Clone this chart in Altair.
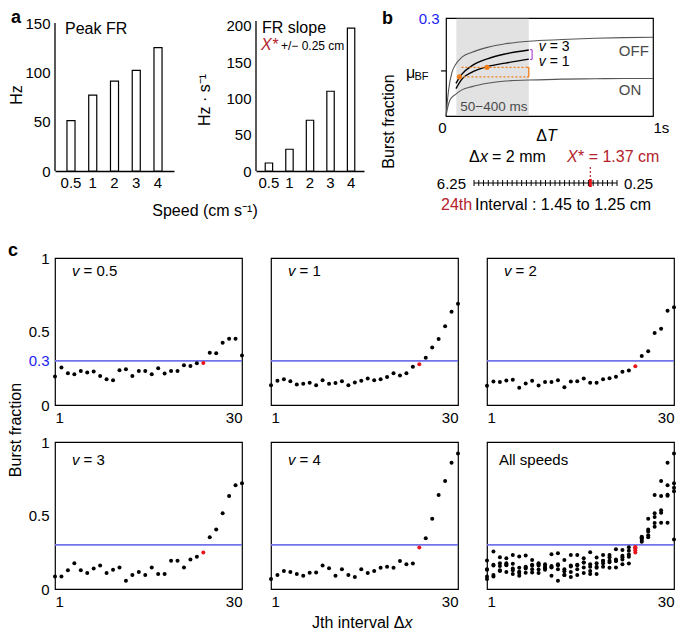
import altair as alt
import pandas as pd

FONT = "Liberation Sans"
RED_TXT = "#b3222b"
RED_PT = "#e8141c"
BLUE_LINE = "#7272ea"
BLUE_TXT = "#1e1ef0"
ORANGE = "#f07d1a"
PURPLE = "#b24ad6"
GRAY_TXT = "#4a4a4a"

# ---------------- panel a data ----------------
speeds = ["0.5", "1", "2", "3", "4"]
peak_fr = [51, 77, 91, 102, 125]
fr_slope = [11, 30, 70, 110, 197]

# ---------------- panel b data ----------------
off_t = [0, 0.013, 0.029, 0.048, 0.077, 0.126, 0.2, 0.287, 0.4, 0.56, 0.72, 0.86, 1.0]
off_bf = [0, 0.082, 0.134, 0.159, 0.18, 0.195, 0.21, 0.221, 0.229, 0.234, 0.238, 0.24, 0.241]
on_t = [0, 0.01, 0.021, 0.048, 0.077, 0.126, 0.2, 0.287, 0.4, 0.56, 0.72, 0.86, 1.0]
on_bf = [0, 0.031, 0.051, 0.067, 0.08, 0.09, 0.1, 0.107, 0.11, 0.113, 0.114, 0.115, 0.115]
v_t = [0.048, 0.077, 0.126, 0.2, 0.287, 0.4]
v3_bf = [0.1, 0.128, 0.154, 0.175, 0.19, 0.202]
v1_bf = [0.084, 0.113, 0.134, 0.151, 0.162, 0.174]
mu_bf = 0.138
win_start, win_end = 0.05, 0.4
orange_t = [0.065, 0.198]
orange_bf = [0.12, 0.149]

boundaries = [6.25, 6.05, 5.85, 5.65, 5.45, 5.25, 5.05, 4.85, 4.65, 4.45, 4.25,
              4.05, 3.85, 3.65, 3.45, 3.25, 3.05, 2.85, 2.65, 2.45, 2.25, 2.05,
              1.85, 1.65, 1.45, 1.25, 1.05, 0.85, 0.65, 0.45, 0.25]
x_star = 1.37

# ---------------- panel c data ----------------
jth = [1, 2, 3, 4, 5, 6, 7, 8, 9, 10, 11, 12, 13, 14, 15,
       16, 17, 18, 19, 20, 21, 22, 23, 24, 25, 26, 27, 28, 29, 30]
red_j = 24
bf_05 = [0.194, 0.255, 0.216, 0.21, 0.232, 0.221, 0.228, 0.198, 0.176, 0.169,
         0.237, 0.243, 0.198, 0.232, 0.232, 0.21, 0.25, 0.214, 0.232, 0.232,
         0.27, 0.266, 0.284, 0.286, 0.356, 0.352, 0.424, 0.45, 0.45, 0.336]
bf_1 = [0.135, 0.165, 0.176, 0.162, 0.14, 0.145, 0.151, 0.135, 0.169, 0.145,
        0.149, 0.162, 0.135, 0.153, 0.165, 0.18, 0.169, 0.176, 0.19, 0.216,
        0.2, 0.216, 0.261, 0.277, 0.322, 0.392, 0.449, 0.536, 0.635, 0.689]
bf_2 = [0.131, 0.16, 0.156, 0.167, 0.171, 0.117, 0.147, 0.165, 0.133, 0.156,
        0.156, 0.169, 0.12, 0.16, 0.162, 0.18, 0.151, 0.151, 0.176, 0.182,
        0.192, 0.226, 0.234, 0.263, 0.333, 0.365, 0.489, 0.518, 0.642, 0.665]
bf_3 = [0.085, 0.085, 0.128, 0.176, 0.128, 0.108, 0.14, 0.16, 0.108, 0.131,
        0.147, 0.056, 0.095, 0.115, 0.095, 0.147, 0.102, 0.102, 0.192, 0.192,
        0.147, 0.2, 0.219, 0.248, 0.352, 0.404, 0.515, 0.632, 0.705, 0.72]
bf_4 = [0.068, 0.095, 0.122, 0.115, 0.102, 0.09, 0.11, 0.113, 0.16, 0.142,
        0.09, 0.135, 0.095, 0.081, 0.135, 0.108, 0.122, 0.144, 0.151, 0.144,
        0.19, 0.169, 0.174, 0.282, 0.345, 0.478, 0.639, 0.734, 0.858, 0.921]
threshold = 0.3

one = pd.DataFrame({"k": [0]})


def label(s, x, y, size=15, color="black", align="left", baseline="middle",
          style="normal", weight="normal", angle=0):
    return alt.Chart(one).mark_text(
        text=s, font=FONT, fontSize=size, color=color, align=align,
        baseline=baseline, fontStyle=style, fontWeight=weight, angle=angle
    ).encode(x=alt.value(x), y=alt.value(y))


def anchor(x, y1, y2):
    return alt.Chart(one).mark_rule(color="white", strokeWidth=1).encode(
        x=alt.value(x), y=alt.value(y1), y2=alt.value(y2))


# ================= panel a =================
def bar_panel(vals, ymax, axis_top, ticks, pin, pout, width, extras):
    df = pd.DataFrame({"speed": speeds, "v": vals})
    X = alt.X("speed:N", sort=speeds, title=None,
              scale=alt.Scale(paddingInner=pin, paddingOuter=pout),
              axis=alt.Axis(labelAngle=0, domain=True, domainColor="black",
                            domainWidth=1.3, labelPadding=4, labelFontSize=15))
    Y = alt.Y("v:Q", title=None, scale=alt.Scale(domain=[0, ymax], nice=False),
              axis=alt.Axis(values=ticks, labelPadding=5, labelFontSize=15))
    bars = alt.Chart(df).mark_bar(fill="white", stroke="black", strokeWidth=1.2).encode(x=X, y=Y)
    yline = alt.Chart(pd.DataFrame({"v": [0], "v2": [axis_top]})).mark_rule(
        color="black", strokeWidth=1.3).encode(x=alt.value(0), y=Y, y2="v2:Q")
    return alt.layer(bars, yline, *extras).properties(
        width=width, height=153, view=alt.ViewBackground(stroke="transparent"))


a1 = bar_panel(peak_fr, 155.07, 150, [0, 50, 100, 150], 0.63, 0.55, 119, [
    label("Peak FR", 10, 11, 16),
    label("a", -44, -0.5, 18, weight="bold"),
    label("Hz", -38.5, 77, 16, align="center", angle=270),
    label("Speed (cm s⁻¹)", 150, 193, 16, align="center"),
    anchor(-55, -18, 205),
])

a2 = bar_panel(fr_slope, 211, 207, [0, 50, 100, 150, 200], 0.64, 0.45, 108, [
    label("FR slope", 6, 10, 16),
    label("X*", 5, 27, 16, color=RED_TXT, style="italic"),
    label("+/− 0.25 cm", 25, 28, 12),
    label("Hz · s⁻¹", -51, 82, 16, align="center", angle=270),
])

# ================= panel b =================
BX = alt.X("t:Q", title=None, scale=alt.Scale(domain=[0, 1], nice=False),
           axis=alt.Axis(values=[0, 1], labelExpr="datum.value == 1 ? '1s' : '0'",
                         labelAlign={"condition": {"test": "datum.value == 0", "value": "right"},
                                     "value": "left"},
                         labelFlush=False, labelPadding=4, labelFontSize=15))
BY = alt.Y("bf:Q", title=None, scale=alt.Scale(domain=[0, 0.3], nice=False),
           axis=alt.Axis(values=[0.3], labelColor=BLUE_TXT, labelPadding=7, labelFontSize=15))

curves = pd.DataFrame({
    "curve": ["OFF"] * len(off_t) + ["ON"] * len(on_t) + ["v3"] * len(v_t) + ["v1"] * len(v_t),
    "t": off_t + on_t + v_t + v_t,
    "bf": off_bf + on_bf + v3_bf + v1_bf,
})

shade = alt.Chart(pd.DataFrame({"t": [win_start], "t2": [win_end], "bf": [0.002], "bf2": [0.298]})).mark_rect(
    color="#e2e2e2").encode(x=BX, x2="t2:Q", y=BY, y2="bf2:Q")
gray_curves = alt.Chart(curves).transform_filter(
    "datum.curve == 'OFF' || datum.curve == 'ON'").mark_line(
    color="#555555", strokeWidth=1.1, interpolate="monotone").encode(x=BX, y=BY, detail="curve:N")
black_curves = alt.Chart(curves).transform_filter(
    "datum.curve == 'v3' || datum.curve == 'v1'").mark_line(
    color="black", strokeWidth=1.4, interpolate="monotone").encode(x=BX, y=BY, detail="curve:N")

orange_lines = alt.Chart(pd.DataFrame({"t": [0.075, 0.065], "t2": [0.4, 0.4],
                                       "bf": [orange_bf[1], orange_bf[0]]})).mark_rule(
    color=ORANGE, strokeWidth=1.2, strokeDash=[2, 2]).encode(x=BX, x2="t2:Q", y=BY)
orange_bracket = alt.Chart(pd.DataFrame({"t": [0.4], "bf": [orange_bf[0]], "bf2": [orange_bf[1]]})).mark_rule(
    color=ORANGE, strokeWidth=1.3).encode(x=BX, y=BY, y2="bf2:Q")
orange_ends = alt.Chart(pd.DataFrame({"t": [0.392, 0.392], "t2": [0.4, 0.4], "bf": orange_bf})).mark_rule(
    color=ORANGE, strokeWidth=1.3).encode(x=BX, x2="t2:Q", y=BY)
orange_dots = alt.Chart(pd.DataFrame({"t": orange_t, "bf": orange_bf})).mark_circle(
    color=ORANGE, size=28, opacity=1).encode(x=BX, y=BY)
purple_bracket = alt.Chart(pd.DataFrame({"t": [0.416], "bf": [0.173], "bf2": [0.203]})).mark_rule(
    color=PURPLE, strokeWidth=1.2).encode(x=BX, y=BY, y2="bf2:Q")
purple_ends = alt.Chart(pd.DataFrame({"t": [0.406, 0.406], "t2": [0.416, 0.416], "bf": [0.173, 0.203]})).mark_rule(
    color=PURPLE, strokeWidth=1.2).encode(x=BX, x2="t2:Q", y=BY)
mu_tick = alt.Chart(pd.DataFrame({"bf": [mu_bf]})).mark_rule(color="black", strokeWidth=1.2).encode(
    x=alt.value(-5), x2=alt.value(0), y=BY)


def dtext(s, t, bf, size=15, color="black", style="normal", dx=0):
    return alt.Chart(pd.DataFrame({"t": [t], "bf": [bf]})).mark_text(
        text=s, font=FONT, fontSize=size, color=color, align="left", baseline="middle",
        fontStyle=style, dx=dx).encode(x=BX, y=BY)


b_main = alt.layer(
    shade, gray_curves, black_curves, orange_lines, orange_bracket, orange_ends, orange_dots,
    purple_bracket, purple_ends, mu_tick,
    dtext("v", 0.448, 0.212, size=14, style="italic"), dtext("= 3", 0.448, 0.212, size=14, dx=11),
    dtext("v", 0.448, 0.166, size=14, style="italic"), dtext("= 1", 0.448, 0.166, size=14, dx=11),
    dtext("OFF", 0.835, 0.2, color=GRAY_TXT), dtext("ON", 0.835, 0.08, color=GRAY_TXT),
    dtext("50−400 ms", 0.069, 0.029, size=13.5, color=GRAY_TXT),
    label("μ", -40, 55, 16), label("BF", -31.5, 59, 11),
    label("b", -64, 0.5, 18, weight="bold"),
    label("Burst fraction", -57, 103.5, 16, align="center", angle=270),
    label("Δ", 101, 118, 16, align="right"), label("T", 101, 118, 16, style="italic"),
)

XT = alt.X("x:Q", title=None, scale=alt.Scale(domain=[6.25, 0.25], range=[28, 171], nice=False, zero=False),
           axis=None)
tick_base = alt.Chart(pd.DataFrame({"x": [boundaries[0]], "x2": [boundaries[-1]]})).mark_rule(
    color="black", strokeWidth=1).encode(x=XT, x2="x2:Q", y=alt.value(165))
tick_marks = alt.Chart(pd.DataFrame({"x": boundaries})).mark_rule(color="black", strokeWidth=1).encode(
    x=XT, y=alt.value(162), y2=alt.value(168))
xs_line = alt.Chart(pd.DataFrame({"x": [x_star]})).mark_rule(
    color=RED_TXT, strokeWidth=1.2, strokeDash=[2, 2]).encode(x=XT, y=alt.value(149), y2=alt.value(165))
xs_mark = alt.Chart(pd.DataFrame({"x": [x_star]})).mark_rule(color=RED_PT, strokeWidth=3).encode(
    x=XT, y=alt.value(161), y2=alt.value(169))

b_tick = alt.layer(
    tick_base, tick_marks, xs_line, xs_mark,
    label("Δ", 23, 139, 16), label("x", 34, 139, 16, style="italic"), label("= 2 mm", 46, 139, 16),
    label("X", 121, 139, 16, color=RED_TXT, style="italic"),
    label("* = 1.37 cm", 132, 139, 16, color=RED_TXT),
    label("6.25", 20, 166, 15, align="right"), label("0.25", 178, 166, 15),
    label("24th", -5, 187, 16, color=RED_TXT), label("Interval : 1.45 to 1.25 cm", 29, 187, 16),
)

b = alt.layer(b_main, b_tick).resolve_scale(x="independent").properties(width=207, height=98)

top = alt.hconcat(a1, a2, b, spacing=82, bounds="flush")

# ================= panel c =================
CX = alt.X("j:Q", title=None, scale=alt.Scale(domain=[1, 30], nice=False, zero=False),
           axis=alt.Axis(values=[1, 30], format="d", labelPadding=5, labelFontSize=15))


def c_panel(series, name, row, col):
    vals = []
    js = []
    for s in series:
        vals += s
        js += jth
    df = pd.DataFrame({"j": js, "bf": vals})
    if col == 0:
        yvals = [0, 0.3, 0.5, 1] if row == 0 else [0, 0.5, 1]
        yaxis = alt.Axis(values=yvals, format="~g", labelPadding=6, labelFontSize=15,
                         labelColor={"condition": {"test": "datum.value == 0.3", "value": BLUE_TXT},
                                     "value": "black"})
    else:
        yaxis = None
    CY = alt.Y("bf:Q", title=None, scale=alt.Scale(domain=[0, 1], nice=False), axis=yaxis)
    rule = alt.Chart(pd.DataFrame({"bf": [threshold]})).mark_rule(
        color=BLUE_LINE, strokeWidth=1.6).encode(y=CY)
    pts = alt.Chart(df).mark_circle(size=16, opacity=1).encode(
        x=CX, y=CY,
        color=alt.condition(f"datum.j == {red_j}", alt.value(RED_PT), alt.value("black")))
    ty = 13 if row == 0 else 18
    layers = [rule, pts]
    if name == "All speeds":
        layers.append(label("All speeds", 12, ty, 15))
    else:
        layers += [label("v", 17, ty, 15, style="italic"), label("= " + name, 28.5, ty, 15)]
    if row == 0 and col == 0:
        layers += [label("c", -47, -7, 18, weight="bold"), anchor(-58, -20, 0)]
    if row == 1 and col == 0:
        layers.append(label("Burst fraction", -39, -12, 16, align="center", angle=270))
    if row == 1 and col == 1:
        layers += [label("Jth interval Δ", 41, 181, 16), label("x", 133.5, 181, 16, style="italic")]
    return alt.layer(*layers).properties(width=187, height=147)


panels = [
    c_panel([bf_05], "0.5", 0, 0),
    c_panel([bf_1], "1", 0, 1),
    c_panel([bf_2], "2", 0, 2),
    c_panel([bf_3], "3", 1, 0),
    c_panel([bf_4], "4", 1, 1),
    c_panel([bf_05, bf_1, bf_2, bf_3, bf_4], "All speeds", 1, 2),
]
cgrid = alt.concat(*panels, columns=3, spacing={"row": 37, "column": 29}, bounds="flush")

chart = alt.vconcat(top, cgrid, spacing=11).properties(
    padding={"left": -13, "top": -10, "right": 0, "bottom": 0}
).configure_view(stroke="black", strokeWidth=1.2).configure_axis(
    grid=False, ticks=False, domain=False, labelFont=FONT, labelColor="black", labelFontSize=15
)

chart.save("out.html", embed_options={"renderer": "svg", "actions": False})
